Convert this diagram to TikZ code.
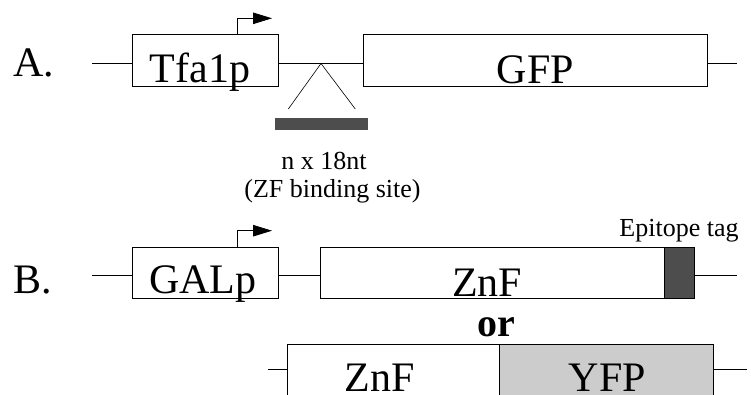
\documentclass[tikz,border=0pt]{standalone}
\usepackage{fontspec}
\setmainfont{Liberation Serif}
\usetikzlibrary{arrows.meta}

\definecolor{tagGray}{RGB}{77,77,77}
\definecolor{yfpGray}{RGB}{204,204,204}

\begin{document}
\begin{tikzpicture}[x=1pt,y=-1pt]
    % Node styles
    \tikzstyle{gene_box} = [rectangle, draw, line width=0.8pt, inner sep=0pt, fill=white]
    \tikzstyle{big_label} = [anchor=base, inner sep=0pt, font=\fontsize{42}{48}\selectfont]
    \tikzstyle{small_label} = [anchor=base, inner sep=0pt, font=\fontsize{26}{30}\selectfont]
    \tikzstyle{dna} = [line width=0.8pt]
    \tikzstyle{promoter} = [line width=0.8pt, -{Triangle[length=19pt,width=11.5pt]}]

    \useasboundingbox (0,0) rectangle (751,394);
    \clip (0,0) rectangle (751,394);

    % Row A: Tfa1p promoter, binding sites, GFP
    \node[gene_box, minimum width=146, minimum height=52] (tfa) at (205,60) {};
    \node[gene_box, minimum width=344, minimum height=52] (gfp) at (535,60) {};
    \node[rectangle, draw=tagGray, fill=tagGray, inner sep=0pt,
          minimum width=92, minimum height=11] (sites) at (321,123.5) {};

    \coordinate (a_start) at (92,63.5);
    \coordinate (a_end) at (737,63.5);
    \coordinate (apex) at (321,63.5);
    \coordinate (leg_l) at (288.3,109);
    \coordinate (leg_r) at (355.3,109);
    \coordinate (tss_a) at (237.3,34);
    \coordinate (tip_a) at (272,18.3);

    \node[big_label] (lab_a) at (33.5,76) {A.};
    \node[big_label] (tfa_text) at (200,82) {Tfa1p};
    \node[big_label] (gfp_text) at (535.5,83) {GFP};
    \node[small_label] (n_text) at (324,169.5) {n x 18nt};
    \node[small_label] (zf_text) at (332.5,197) {(ZF binding site)};

    \draw[dna] (a_start) -- (tfa.west |- a_start);
    \draw[dna] (tfa.east |- a_start) -- (gfp.west |- a_start);
    \draw[dna] (gfp.east |- a_end) -- (a_end);
    \draw[line width=0.6pt] (leg_l) -- (apex) -- (leg_r);
    \draw[promoter] (tss_a) |- (tip_a);

    % Row B: GAL promoter, ZnF with epitope tag
    \node[gene_box, minimum width=146, minimum height=51] (galp) at (205,272.5) {};
    \node[gene_box, minimum width=344, minimum height=51] (znf_b) at (492.3,272.5) {};
    \node[gene_box, fill=tagGray, minimum width=30, minimum height=51] (epi) at (679.3,272.5) {};

    \coordinate (b_start) at (92,275.7);
    \coordinate (b_end) at (736.7,275.7);
    \coordinate (tss_b) at (237.3,247);
    \coordinate (tip_b) at (272,230.7);

    \node[big_label] (lab_b) at (33,293) {B.};
    \node[big_label] (galp_text) at (203,293.3) {GALp};
    \node[big_label] (znf_b_text) at (487,296.7) {ZnF};
    \node[small_label] (epi_text) at (679,236) {Epitope tag};

    \draw[dna] (b_start) -- (galp.west |- b_start);
    \draw[dna] (galp.east |- b_start) -- (znf_b.west |- b_start);
    \draw[dna] (epi.east |- b_end) -- (b_end);
    \draw[promoter] (tss_b) |- (tip_b);

    % Alternative: ZnF fused to YFP
    \node[big_label, font=\fontsize{40}{46}\selectfont\bfseries] (or_text) at (496,336.7) {or};

    \node[gene_box, minimum width=212, minimum height=52] (znf_c) at (393.3,370.5) {};
    \node[gene_box, fill=yfpGray, minimum width=214.2, minimum height=52] (yfp) at (606.4,370.5) {};

    \coordinate (c_start) at (268,369);
    \coordinate (c_end) at (746.7,369);

    \node[big_label] (znf_c_text) at (380,391.5) {ZnF};
    \node[big_label] (yfp_text) at (607.5,391.7) {YFP};

    \draw[dna] (c_start) -- (znf_c.west |- c_start);
    \draw[dna] (yfp.east |- c_end) -- (c_end);
\end{tikzpicture}
\end{document}
